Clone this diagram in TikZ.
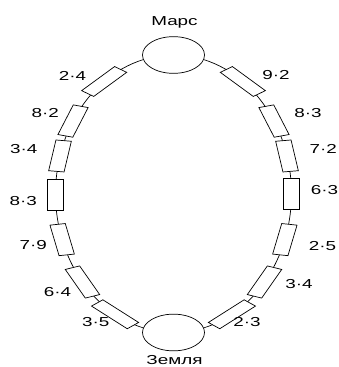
\documentclass[tikz,border=0pt]{standalone}
\usepackage{fontspec}
\setmainfont{Liberation Sans}
\newcommand{\stx}[1]{\scalebox{1.45}[1]{#1}}
\tikzset{
  wire/.style={draw=black, line width=0.7pt},
  planet/.style={draw=black, fill=white, line width=0.7pt, circle, minimum size=36.7pt, inner sep=0pt, transform shape},
  res/.style={draw=black, fill=white, line width=0.7pt, rectangle, minimum width=31pt, minimum height=9.2pt, inner sep=0pt, transform shape},
  lab/.style={font=\fontsize{13}{15}\selectfont, inner sep=0pt, anchor=center},
  title/.style={font=\fontsize{13}{15}\selectfont, inner sep=0pt, anchor=base}
}
\begin{document}
\begin{tikzpicture}[x=1pt,y=1pt]
\useasboundingbox (0,0) rectangle (339,-367);
\begin{scope}[shift={(173.5,-193.75)}, xscale=1.69]
  \draw[wire] (0,0) ellipse [x radius=69.8, y radius=138.75];
  \node[planet] (mars) at (90:69.8 and 138.75) {};
  \node[planet] (earth) at (270:69.8 and 138.75) {};
  % left side
  \node[res, rotate=51]  (l1) at (126:69.8 and 138.75) {};
  \node[res, rotate=73]  (l2) at (148.4:69.8 and 138.75) {};
  \node[res, rotate=82]  (l3) at (164.2:69.8 and 138.75) {};
  \node[res, rotate=90]  (l4) at (180.5:69.8 and 138.75) {};
  \node[res, rotate=100] (l5) at (199.3:69.8 and 138.75) {};
  \node[res, rotate=112.5] (l6) at (219.5:69.8 and 138.75) {};
  \node[res, rotate=133] (l7) at (240.3:69.8 and 138.75) {};
  % right side
  \node[res, rotate=-51] (r1) at (54:69.8 and 138.75) {};
  \node[res, rotate=-73] (r2) at (31.6:69.8 and 138.75) {};
  \node[res, rotate=-82] (r3) at (15.8:69.8 and 138.75) {};
  \node[res, rotate=90]  (r4) at (0:69.8 and 138.75) {};
  \node[res, rotate=80]  (r5) at (-19.3:69.8 and 138.75) {};
  \node[res, rotate=67.5] (r6) at (-39.5:69.8 and 138.75) {};
  \node[res, rotate=47]  (r7) at (-60.3:69.8 and 138.75) {};
\end{scope}
\node[title] (tmars) at (174.5,-25.5) {\stx{Марс}};
\node[title] (tearth) at (174.5,-364.5) {\stx{Земля}};
\node[lab] (tl1) at (72.5,-76)   {\stx{2·4}};
\node[lab] (tl2) at (45.3,-113.3) {\stx{8·2}};
\node[lab] (tl3) at (23.7,-149)  {\stx{3·4}};
\node[lab] (tl4) at (23.3,-201)  {\stx{8·3}};
\node[lab] (tl5) at (33.2,-245.3) {\stx{7·9}};
\node[lab] (tl6) at (57.5,-292.3) {\stx{6·4}};
\node[lab] (tl7) at (95.8,-321.7) {\stx{3·5}};
\node[lab] (tr1) at (276,-75.3)  {\stx{9·2}};
\node[lab] (tr2) at (308,-113.3) {\stx{8·3}};
\node[lab] (tr3) at (323.3,-149) {\stx{7·2}};
\node[lab] (tr4) at (324.5,-190) {\stx{6·3}};
\node[lab] (tr5) at (322.5,-245.7) {\stx{2·5}};
\node[lab] (tr6) at (299,-284)   {\stx{3·4}};
\node[lab] (tr7) at (247,-322.3) {\stx{2·3}};
\end{tikzpicture}
\end{document}
